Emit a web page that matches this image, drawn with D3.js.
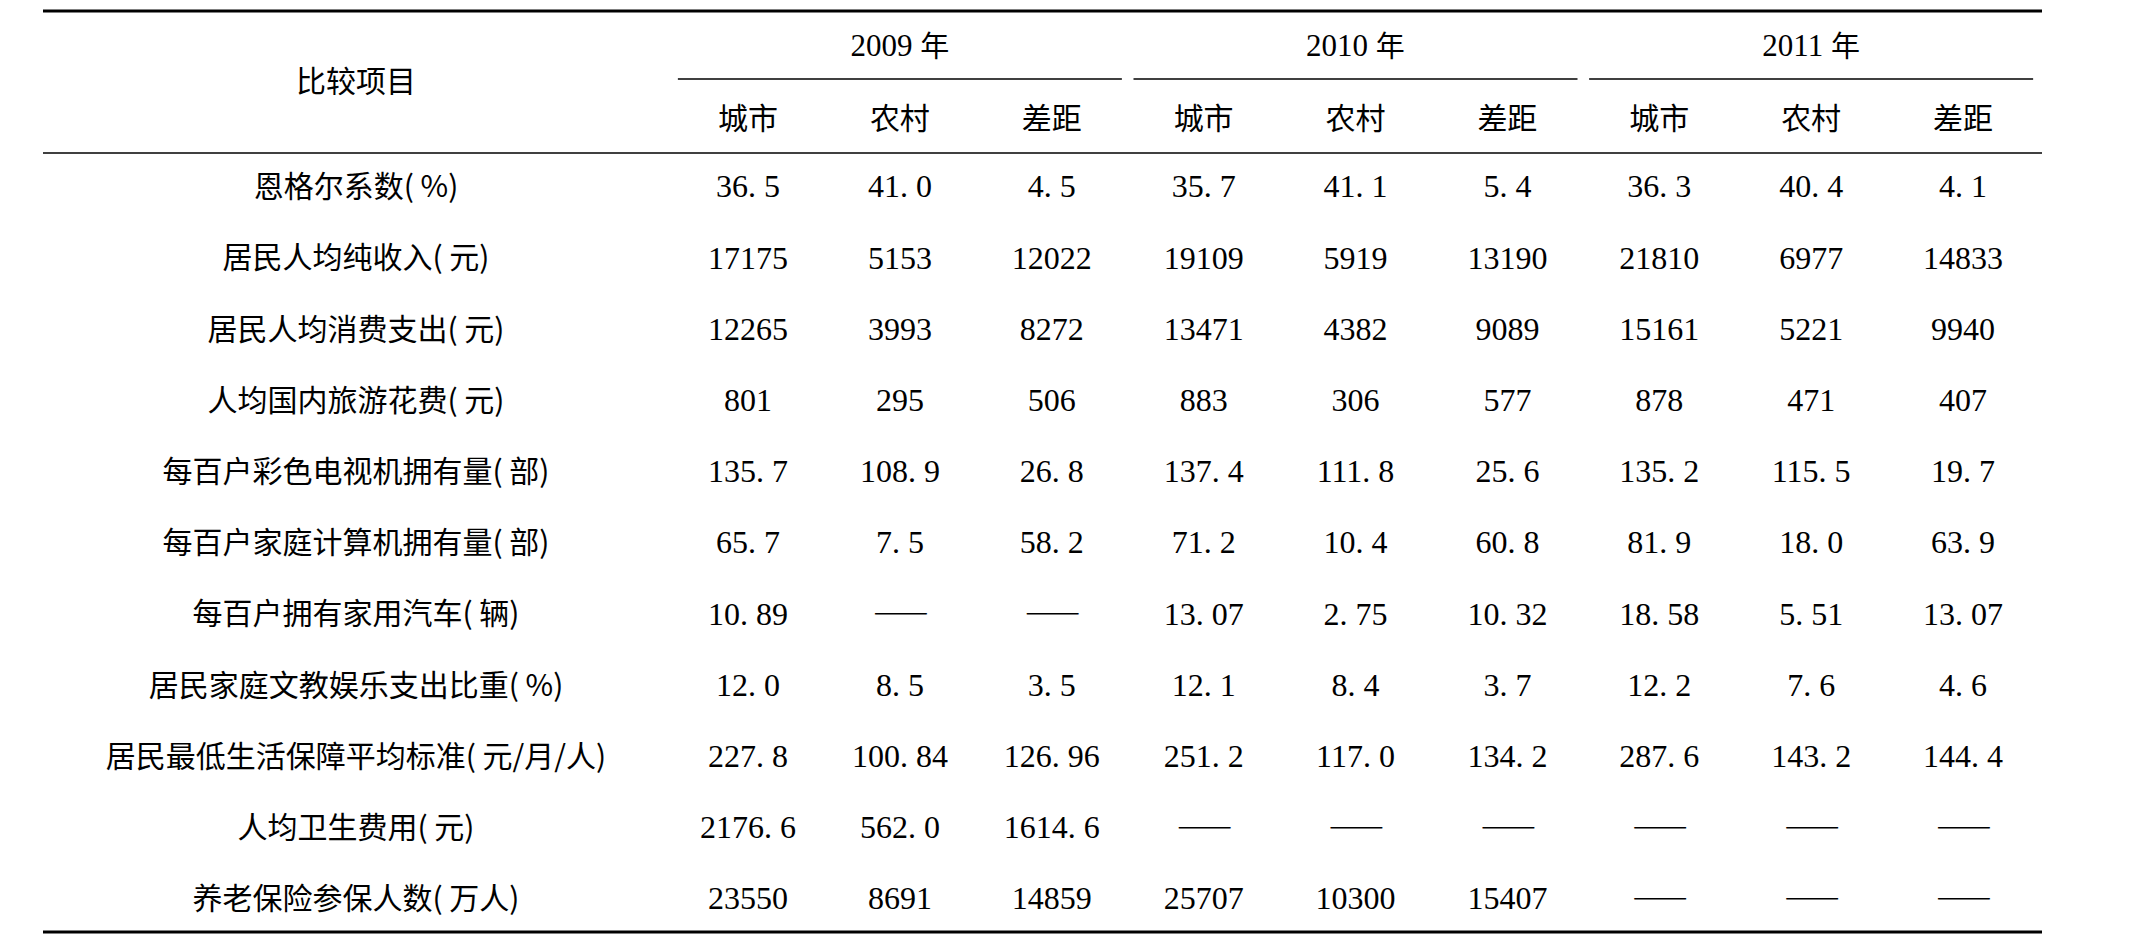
<!DOCTYPE html>
<html><head><meta charset="utf-8">
<script src="https://cdn.jsdelivr.net/npm/d3@7/dist/d3.min.js"></script>
<style>body{margin:0;background:#fff}</style></head>
<body><svg id="c" width="2137" height="945"></svg>
<script>
const years = ["2009 年","2010 年","2011 年"];
const subHeads = ["城市","农村","差距"];
const items = ["恩格尔系数( %)","居民人均纯收入( 元)","居民人均消费支出( 元)","人均国内旅游花费( 元)","每百户彩色电视机拥有量( 部)","每百户家庭计算机拥有量( 部)","每百户拥有家用汽车( 辆)","居民家庭文教娱乐支出比重( %)","居民最低生活保障平均标准( 元/月/人)","人均卫生费用( 元)","养老保险参保人数( 万人)"];
const D = "——";
const values2009 = [["36.5","41.0","4.5"],["17175","5153","12022"],["12265","3993","8272"],["801","295","506"],["135.7","108.9","26.8"],["65.7","7.5","58.2"],["10.89",D,D],["12.0","8.5","3.5"],["227.8","100.84","126.96"],["2176.6","562.0","1614.6"],["23550","8691","14859"]];
const values2010 = [["35.7","41.1","5.4"],["19109","5919","13190"],["13471","4382","9089"],["883","306","577"],["137.4","111.8","25.6"],["71.2","10.4","60.8"],["13.07","2.75","10.32"],["12.1","8.4","3.7"],["251.2","117.0","134.2"],[D,D,D],["25707","10300","15407"]];
const values2011 = [["36.3","40.4","4.1"],["21810","6977","14833"],["15161","5221","9940"],["878","471","407"],["135.2","115.5","19.7"],["81.9","18.0","63.9"],["18.58","5.51","13.07"],["12.2","7.6","4.6"],["287.6","143.2","144.4"],[D,D,D],[D,D,D]];
const allVals=[values2009,values2010,values2011];

const svg=d3.select("#c");
const y=d3.scalePoint().domain(d3.range(items.length)).range([189,901]);
const cx=d3.scalePoint().domain(d3.range(9)).range([748,1963]);
const colX=(g,k)=>cx(g*3+k);
const serif="'Liberation Serif','Times New Roman','DejaVu Serif',serif", cjk="'Noto Sans CJK SC',sans-serif";

svg.append("line").attr("x1",43).attr("x2",2042).attr("y1",11).attr("y2",11).attr("stroke","#000").attr("stroke-width",3);
svg.append("line").attr("x1",43).attr("x2",2042).attr("y1",153).attr("y2",153).attr("stroke","#000").attr("stroke-width",1.6);
svg.append("line").attr("x1",43).attr("x2",2042).attr("y1",932).attr("y2",932).attr("stroke","#000").attr("stroke-width",3);

svg.append("text").attr("x",356).attr("y",84).attr("text-anchor","middle").attr("dominant-baseline","middle")
  .attr("font-family",cjk).attr("font-size",30).text("比较项目");

years.forEach((yr,g)=>{
  const m=colX(g,1);
  svg.append("line").attr("x1",m-222).attr("x2",m+222).attr("y1",79).attr("y2",79).attr("stroke","#000").attr("stroke-width",1.6);
  const t=svg.append("text").attr("x",m).attr("y",49).attr("text-anchor","middle").attr("dominant-baseline","middle").attr("font-size",31);
  const [num,yrc]=yr.split(" ");
  t.append("tspan").attr("font-family",serif).text(num+" ");
  t.append("tspan").attr("font-family",cjk).attr("font-size",29).text(yrc);
  subHeads.forEach((s,k)=>svg.append("text").attr("x",colX(g,k)).attr("y",121).attr("text-anchor","middle").attr("dominant-baseline","middle")
    .attr("font-family",cjk).attr("font-size",30).text(s));
});

items.forEach((it,i)=>{
  svg.append("text").attr("x",356).attr("y",y(i)).attr("text-anchor","middle").attr("dominant-baseline","middle")
    .attr("font-family",cjk).attr("font-size",30).text(it);
  allVals.forEach((vals,g)=>vals[i].forEach((v,k)=>{
    const isD=v===D;
    svg.append("text").attr("x",colX(g,k)).attr("y",y(i)+(isD?-2:1)).attr("text-anchor","middle").attr("dominant-baseline","middle")
      .attr("font-family",isD?cjk:serif).attr("font-size",isD?33:32).attr("font-weight",isD?300:400)
      .attr("letter-spacing",isD?-2:0).text(isD?v:v.replace("."," . ").replace(/^(\d+) \./,"$1."));
  }));
});
</script></body></html>
